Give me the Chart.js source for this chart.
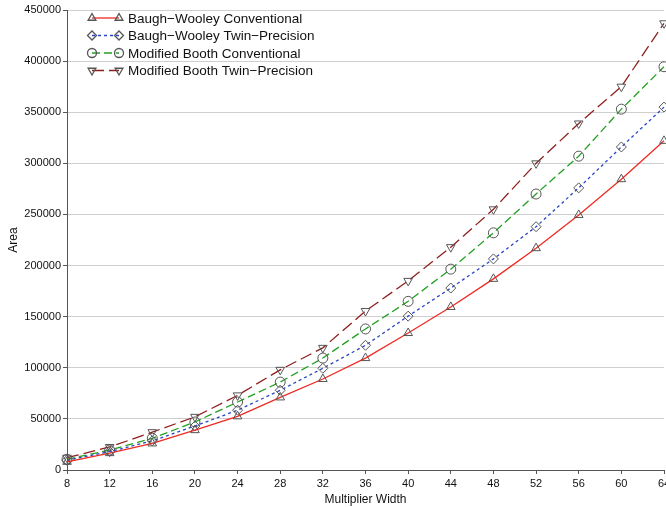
<!DOCTYPE html>
<html>
<head>
<meta charset="utf-8">
<script src="https://cdn.jsdelivr.net/npm/chart.js@4/dist/chart.umd.min.js"></script>
<style>
  html, body { margin: 0; padding: 0; background: #fff; overflow: hidden; }
  #wrap { width: 670px; height: 507px; position: relative; }
</style>
</head>
<body>
<div id="wrap"><canvas id="chart-area"></canvas></div>
<script>
const widths = ['8', '12', '16', '20', '24', '28', '32', '36', '40', '44', '48', '52', '56', '60', '64'];
const bwConventional = [8000, 16500, 26000, 39000, 52500, 71000, 89000, 109500, 134000, 159500, 187000, 217000, 249500, 284500, 322000];
const bwTwinPrecision = [9500, 18000, 28500, 43000, 58500, 78000, 99500, 122000, 150500, 178000, 206500, 238000, 276000, 316000, 355000];
const mbConventional = [10500, 19500, 31000, 47000, 66500, 86000, 109500, 138000, 165000, 196500, 232000, 270000, 307000, 353000, 394500];
const mbTwinPrecision = [12000, 22500, 37000, 52000, 73000, 98000, 119500, 155500, 185000, 218000, 255000, 300000, 339000, 375000, 437000];

const yTicks = [0, 50000, 100000, 150000, 200000, 250000, 300000, 350000, 400000, 450000];

const FONT = "'Liberation Sans', Arial, Helvetica, sans-serif";
const MARK = '#555';

function series(label, data, color, dash, style, rotation) {
  return {
    label, data,
    borderColor: color, borderWidth: 1.3, borderDash: dash,
    backgroundColor: 'transparent',
    pointStyle: style, pointRotation: rotation,
    pointRadius: 5, pointBorderColor: MARK, pointBorderWidth: 1,
    pointBackgroundColor: 'transparent',
    tension: 0, fill: false, clip: false
  };
}

// legend drawn as line sample with a marker on each end
const lineLegend = {
  id: 'lineLegend',
  afterDraw(chart) {
    const ctx = chart.ctx;
    const x0 = 92, x1 = 119, top = 18, gap = 17.5;
    chart.data.datasets.forEach((ds, i) => {
      const y = top + i * gap;
      ctx.save();
      ctx.strokeStyle = ds.borderColor;
      ctx.lineWidth = ds.borderWidth;
      ctx.setLineDash(ds.borderDash || []);
      ctx.beginPath();
      ctx.moveTo(x0, y);
      ctx.lineTo(x1, y);
      ctx.stroke();
      ctx.setLineDash([]);
      const opts = { pointStyle: ds.pointStyle, rotation: ds.pointRotation, radius: 4.5, borderWidth: 1 };
      ctx.strokeStyle = MARK;
      ctx.fillStyle = 'transparent';
      Chart.helpers.drawPoint(ctx, opts, x0, y);
      Chart.helpers.drawPoint(ctx, opts, x1, y);
      ctx.fillStyle = '#111';
      ctx.font = '13.5px ' + FONT;
      ctx.textBaseline = 'middle';
      ctx.textAlign = 'left';
      ctx.fillText(ds.label, x1 + 9, y + 1);
      ctx.restore();
    });
  }
};

new Chart(document.getElementById('chart-area').getContext('2d'), {
  type: 'line',
  data: {
    labels: widths,
    datasets: [
      series('Baugh\u2212Wooley Conventional', bwConventional, '#ee2a22', [], 'triangle', 0),
      series('Baugh\u2212Wooley Twin\u2212Precision', bwTwinPrecision, '#2845c8', [3, 3], 'rectRot', 0),
      series('Modified Booth Conventional', mbConventional, '#22a022', [8, 4], 'circle', 0),
      series('Modified Booth Twin\u2212Precision', mbTwinPrecision, '#8e1f1f', [12, 5], 'triangle', 180)
    ]
  },
  plugins: [lineLegend],
  options: {
    responsive: true,
    maintainAspectRatio: false,
    animation: false,
    layout: { padding: { top: 10, right: 0, left: 0, bottom: 0 } },
    plugins: {
      legend: { display: false },
      tooltip: { enabled: false }
    },
    scales: {
      x: {
        type: 'category',
        offset: false,
        grid: { drawOnChartArea: false, tickColor: MARK, tickLength: 4 },
        border: { color: MARK, width: 1 },
        ticks: { color: '#111', font: { family: FONT, size: 11 }, padding: 3, maxRotation: 0, autoSkip: false },
        title: { display: true, text: 'Multiplier Width', color: '#111', font: { family: FONT, size: 12 }, padding: { top: 1, bottom: 0 } },
        afterFit(scale) { scale.height = 37; scale.paddingRight = 0; scale.paddingLeft = 0; }
      },
      y: {
        min: 0, max: 450000,
        afterBuildTicks(scale) { scale.ticks = yTicks.map(v => ({ value: v })); },
        grid: { color: '#cfcfcf', lineWidth: 1, tickColor: MARK, tickLength: 4 },
        border: { color: MARK, width: 1 },
        ticks: { color: '#111', font: { family: FONT, size: 11 }, padding: 2, callback: v => String(v) },
        title: { display: true, text: 'Area', color: '#111', font: { family: FONT, size: 12 }, padding: { top: 6, bottom: 4 } },
        afterFit(scale) { scale.width = 67; }
      }
    }
  }
});
</script>
</body>
</html>
